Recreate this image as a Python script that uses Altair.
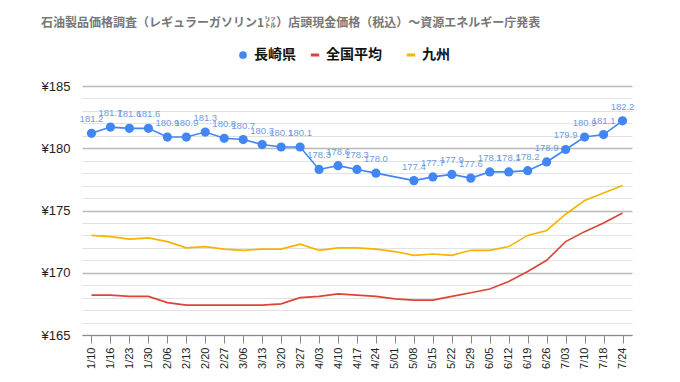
import altair as alt
import pandas as pd

dates = ["1/10","1/16","1/23","1/30","2/06","2/13","2/20","2/27","3/06","3/13",
         "3/20","3/27","4/03","4/10","4/17","4/24","5/01","5/08","5/15","5/22",
         "5/29","6/05","6/12","6/19","6/26","7/03","7/10","7/18","7/24"]

nagasaki = [181.2,181.7,181.6,181.6,180.9,180.9,181.3,180.8,180.7,180.3,
            180.1,180.1,178.3,178.6,178.3,178.0,None,177.4,177.7,177.9,
            177.6,178.1,178.1,178.2,178.9,179.9,180.9,181.1,182.2]

national = [168.2,168.2,168.1,168.1,167.6,167.4,167.4,167.4,167.4,167.4,
            167.5,168.0,168.1,168.3,168.2,168.1,167.9,167.8,167.8,168.1,
            168.4,168.7,169.3,170.1,171.0,172.5,173.3,174.0,174.8]

kyushu = [173.0,172.9,172.7,172.8,172.5,172.0,172.1,171.9,171.8,171.9,
          171.9,172.3,171.8,172.0,172.0,171.9,171.7,171.4,171.5,171.4,
          171.8,171.8,172.1,173.0,173.4,174.7,175.8,176.4,177.0]

series_names = ["長崎県", "全国平均", "九州"]
series_colors = ["#4285f4", "#db4437", "#f4b400"]
y_ticks = list(range(165, 186))

rows = []
for name, vals in zip(series_names, [nagasaki, national, kyushu]):
    for i, (d, v) in enumerate(zip(dates, vals)):
        rows.append({"date": d, "order": i, "series": name, "value": v})
df = pd.DataFrame(rows)
df = df[df["value"].notna()]
blue = df[df["series"] == "長崎県"].copy()
blue["label"] = blue["value"].map(lambda v: f"{v:.1f}")

x_enc = alt.X("date:O", sort=dates,
              scale=alt.Scale(type="point", padding=0.5),
              axis=alt.Axis(title=None, labelAngle=270, labelFontSize=11,
                            labelFont="Liberation Sans", labelColor="#222222",
                            tickSize=8, tickColor="#888888", domainColor="#888888",
                            labelPadding=4, grid=False))
y_enc = alt.Y("value:Q", scale=alt.Scale(domain=[165, 185], nice=False, zero=False),
              axis=alt.Axis(title=None, values=y_ticks,
                            labelExpr="datum.value % 5 === 0 ? '¥' + datum.value : ''",
                            labelFontSize=13, labelFont="Liberation Sans",
                            labelColor="#222222", labelPadding=12,
                            domain=False, ticks=False,
                            gridColor={"condition": {"test": "datum.value % 5 === 0", "value": "#b9b9b9"}, "value": "#e2e2e2"},
                            gridWidth={"condition": {"test": "datum.value % 5 === 0", "value": 1.5}, "value": 1}))

legend_font = dict(labelFont="Noto Sans CJK JP", labelFontSize=14, labelFontWeight="bold",
                   labelColor="#111111")

line_legend = alt.Legend(title=None, orient="none", direction="horizontal",
                         legendX=226, legendY=-38, values=series_names[1:],
                         symbolType="stroke", symbolStrokeWidth=3, symbolSize=70,
                         columnPadding=18, **legend_font)

point_legend = alt.Legend(title=None, orient="none", direction="horizontal",
                          legendX=154, legendY=-38, symbolType="circle", symbolSize=60,
                          **legend_font)

lines = alt.Chart(df).mark_line(strokeWidth=1.6).encode(
    x=x_enc, y=y_enc,
    color=alt.Color("series:N", scale=alt.Scale(domain=series_names, range=series_colors),
                    legend=line_legend),
    strokeWidth=alt.condition("datum.series === '長崎県'", alt.value(3), alt.value(1.6)),
    order="order:Q")

points = alt.Chart(blue).mark_point(filled=True, opacity=1, size=85).encode(
    x=x_enc, y=y_enc,
    fill=alt.Fill("series:N", scale=alt.Scale(domain=series_names[:1], range=series_colors[:1]),
                  legend=point_legend))

labels = alt.Chart(blue).mark_text(fontSize=9.5, dy=-14, color="#6f9be0",
                                   font="Liberation Sans").encode(
    x=x_enc, y=y_enc, text="label:N")

chart = alt.layer(lines, points, labels).resolve_scale(color="independent", fill="independent").properties(
    width=550, height=249,
    autosize=alt.AutoSizeParams(type="none"),
    padding={"left": 74, "top": 78, "right": 30, "bottom": 40},
    title=alt.TitleParams(
        "石油製品価格調査（レギュラーガソリン1㍑）店頭現金価格（税込）～資源エネルギー庁発表",
        anchor="start", offset=18, fontSize=12, font="Noto Sans CJK JP",
        fontWeight="bold", color="#777777")
).configure_view(stroke=None)

chart.save("out.html", embed_options={"renderer": "svg", "actions": False})
